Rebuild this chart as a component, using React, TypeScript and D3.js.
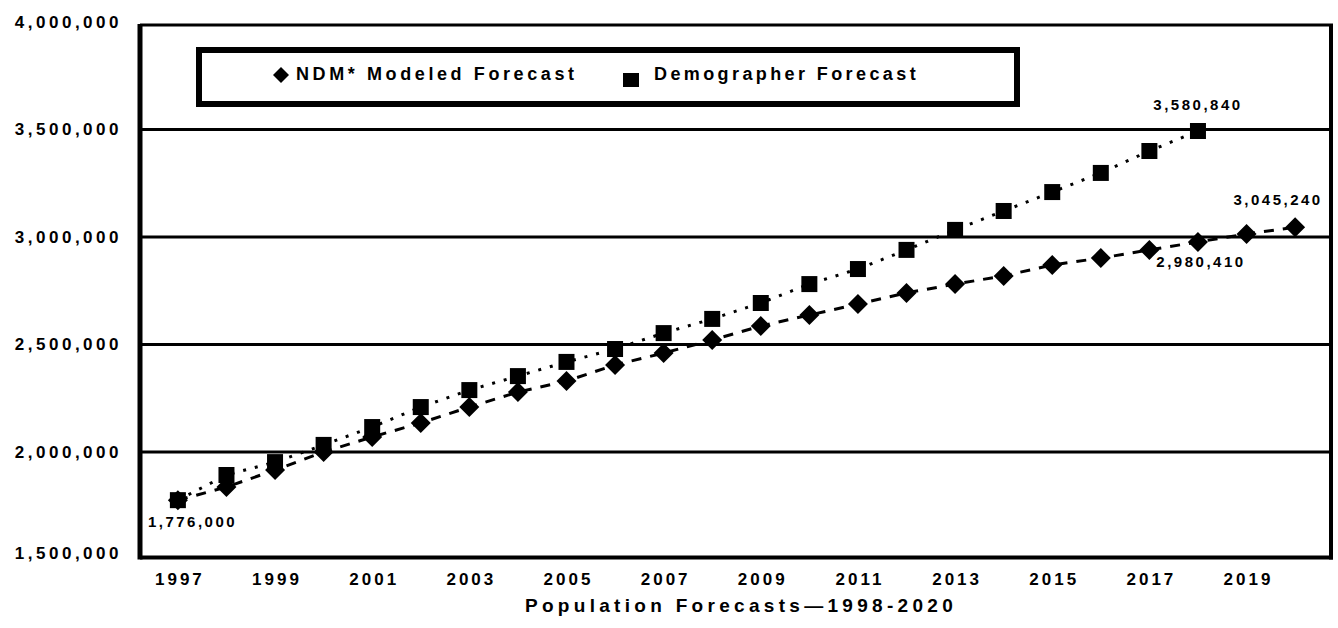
import React from "react";
import * as d3 from "d3";

const years = [1997,1998,1999,2000,2001,2002,2003,2004,2005,2006,2007,2008,2009,2010,2011,2012,2013,2014,2015,2016,2017,2018,2019,2020];
const modeledValues = [1776000,1837000,1916000,2000000,2070000,2135000,2209000,2279000,2330000,2405000,2460000,2521000,2586000,2637000,2688000,2740000,2781000,2819000,2870000,2902000,2940000,2977000,3014000,3045240];
const demographerYears = [1997,1998,1999,2000,2001,2002,2003,2004,2005,2006,2007,2008,2009,2010,2011,2012,2013,2014,2015,2016,2017,2018];
const demographerValues = [1776000,1893000,1953000,2033000,2116000,2209000,2288000,2353000,2419000,2479000,2553000,2619000,2693000,2781000,2851000,2940000,3033000,3121000,3209000,3298000,3400000,3493000];
const yTicks = [1500000,2000000,2500000,3000000,3500000,4000000];
const xTickYears = [1997,1999,2001,2003,2005,2007,2009,2011,2013,2015,2017,2019];
const seriesNames = ["NDM* Modeled Forecast","Demographer Forecast"];
const axisTitle = "Population Forecasts\u20141998-2020";
const pointLabels = [
  { year: 1997, value: 1776000, text: "1,776,000", dx: -30, dy: 21, anchor: "start" },
  { year: 2018, value: 3493000, text: "3,580,840", dx: 0, dy: -27, anchor: "middle" },
  { year: 2020, value: 3045240, text: "3,045,240", dx: -17, dy: -28, anchor: "middle" },
  { year: 2018, value: 2977000, text: "2,980,410", dx: 3, dy: 20, anchor: "middle" },
];

const W = 1338, H = 628;
const FONT = "'Liberation Sans', Arial, sans-serif";

export default function App() {
  const x = d3.scaleLinear().domain([1996.22, 2020.78]).range([140, 1333]);
  const y = d3.scaleLinear().domain([1500000, 4000000]).range([559.5, 22]);
  const fmt = d3.format(",");

  const modeled = years.map((yr, i) => [yr, modeledValues[i]] as [number, number]);
  const demog = demographerYears.map((yr, i) => [yr, demographerValues[i]] as [number, number]);
  const line = d3.line<[number, number]>().x(d => x(d[0])).y(d => y(d[1]));

  const diamond = (cx: number, cy: number, r: number) =>
    `M${cx},${cy - r}L${cx + r},${cy}L${cx},${cy + r}L${cx - r},${cy}Z`;

  const left = x.range()[0], right = x.range()[1];
  const top = y(4000000), bottom = y(1500000);

  return (
    <svg width={W} height={H} style={{ position: "fixed", left: 0, top: 0, background: "#fff" }}>
      <rect x={0} y={0} width={W} height={H} fill="#fff" />
      {/* gridlines */}
      {yTicks.filter(t => t > 1500000 && t < 4000000).map(t => (
        <line key={t} x1={left} x2={right} y1={y(t)} y2={y(t)} stroke="#000" strokeWidth={3} />
      ))}
      {/* frame */}
      <line x1={left} x2={right} y1={top + 3} y2={top + 3} stroke="#000" strokeWidth={3} />
      <line x1={left} x2={right} y1={bottom - 2} y2={bottom - 2} stroke="#000" strokeWidth={4} />
      <line x1={left} x2={left} y1={top + 2} y2={bottom} stroke="#000" strokeWidth={5} />
      <line x1={right - 2} x2={right - 2} y1={top + 2} y2={bottom} stroke="#000" strokeWidth={4} />

      {/* y tick labels */}
      {yTicks.map(t => (
        <text key={t} x={122} y={y(t) - (t === 1500000 ? 6 : 0)} textAnchor="end" dominantBaseline="central"
          fontFamily={FONT} fontWeight="bold" fontSize={17} letterSpacing={3.5}>{fmt(t)}</text>
      ))}
      {/* x tick labels */}
      {xTickYears.map(t => (
        <text key={t} x={x(t) + 2} y={579} textAnchor="middle" dominantBaseline="central"
          fontFamily={FONT} fontWeight="bold" fontSize={17} letterSpacing={3}>{t}</text>
      ))}
      <text x={741} y={605} textAnchor="middle" dominantBaseline="central"
        fontFamily={FONT} fontWeight="bold" fontSize={19} letterSpacing={4.3}>{axisTitle}</text>

      {/* lines */}
      <path d={line(demog) || ""} fill="none" stroke="#000" strokeWidth={3} strokeDasharray="3,9" />
      <path d={line(modeled) || ""} fill="none" stroke="#000" strokeWidth={3} strokeDasharray="10,9" />

      {/* markers */}
      {demog.map(([yr, v]) => (
        <rect key={"d" + yr} x={x(yr) - 8} y={y(v) - 8} width={16} height={16} fill="#000" />
      ))}
      {modeled.map(([yr, v]) => (
        <path key={"m" + yr} d={diamond(x(yr), y(v), 10)} fill="#000" />
      ))}

      {/* point labels */}
      {pointLabels.map((p, i) => (
        <text key={i} x={x(p.year) + p.dx} y={y(p.value) + p.dy} textAnchor={p.anchor as any}
          dominantBaseline="central" fontFamily={FONT} fontWeight="bold" fontSize={15} letterSpacing={2.5}>{p.text}</text>
      ))}

      {/* legend */}
      <rect x={199} y={50} width={818} height={54} fill="#fff" stroke="#000" strokeWidth={6} />
      <path d={diamond(281, 75, 8)} fill="#000" />
      <text x={296} y={74} dominantBaseline="central" fontFamily={FONT} fontWeight="bold" fontSize={18} letterSpacing={3.6}>{seriesNames[0]}</text>
      <rect x={623} y={73} width={16} height={14} fill="#000" />
      <text x={654} y={74} dominantBaseline="central" fontFamily={FONT} fontWeight="bold" fontSize={18} letterSpacing={3.4}>{seriesNames[1]}</text>
    </svg>
  );
}
